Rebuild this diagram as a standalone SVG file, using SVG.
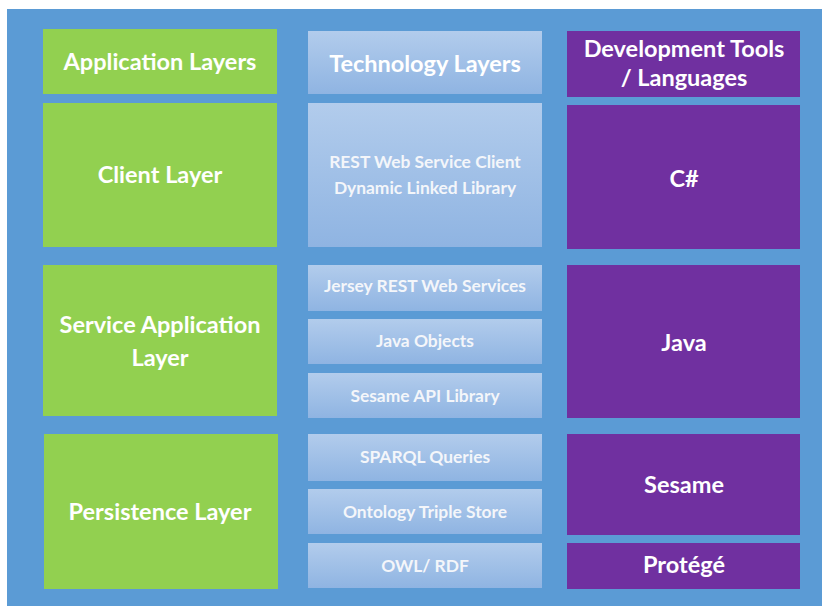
<svg xmlns="http://www.w3.org/2000/svg" width="822" height="606" viewBox="0 0 822 606">
<defs>
<linearGradient id="tg" x1="0" y1="0" x2="0" y2="1">
<stop offset="0" stop-color="#B2CCEC"/>
<stop offset="1" stop-color="#8FB4E2"/>
</linearGradient>
<style>
.g{fill:#92D050}
.p{fill:#7030A0}
.t{fill:url(#tg)}
text{font-family:Lato,"Open Sans","Liberation Sans",sans-serif;font-weight:bold;fill:#FFFFFF;text-anchor:middle}
.big{font-size:23.5px}
.sm{font-size:17.4px;fill:#F4F6FA}
.hd{font-size:23.5px}
</style>
</defs>
<rect x="0" y="0" width="822" height="606" fill="#FFFFFF"/>
<rect x="7" y="9" width="815" height="597" fill="#5B9BD5"/>

<g id="app-header"><rect class="g" x="43" y="29" width="234" height="65"/><text class="hd" x="160" y="70">Application Layers</text></g>
<g id="client-layer"><rect class="g" x="43" y="103" width="234" height="144"/><text class="big" x="160" y="183">Client Layer</text></g>
<g id="service-layer"><rect class="g" x="43" y="265" width="234" height="151"/><text class="big" x="160" y="333">Service Application</text><text class="big" x="160" y="366">Layer</text></g>
<g id="persistence-layer"><rect class="g" x="44" y="434" width="234" height="155"/><text class="big" x="160" y="520">Persistence Layer</text></g>

<g id="tech-header"><rect class="t" x="308" y="31" width="234" height="63"/><text class="hd" x="425" y="72">Technology Layers</text></g>
<g id="rest-client"><rect class="t" x="308" y="103" width="234" height="144"/><text class="sm" x="425" y="168">REST Web Service Client</text><text class="sm" x="425" y="194">Dynamic Linked Library</text></g>
<g id="jersey"><rect class="t" x="308" y="265" width="234" height="46"/><text class="sm" x="425" y="292">Jersey REST Web Services</text></g>
<g id="java-objects"><rect class="t" x="308" y="319" width="234" height="45"/><text class="sm" x="425" y="347">Java Objects</text></g>
<g id="sesame-api"><rect class="t" x="308" y="373" width="234" height="45"/><text class="sm" x="425" y="402">Sesame API Library</text></g>
<g id="sparql"><rect class="t" x="308" y="434" width="234" height="47"/><text class="sm" x="425" y="463">SPARQL Queries</text></g>
<g id="ontology-store"><rect class="t" x="308" y="489" width="234" height="45"/><text class="sm" x="425" y="518">Ontology Triple Store</text></g>
<g id="owl-rdf"><rect class="t" x="308" y="543" width="234" height="45"/><text class="sm" x="425" y="572">OWL/ RDF</text></g>

<g id="tools-header"><rect class="p" x="567" y="31" width="233" height="66"/><text class="hd" x="684" y="57">Development Tools</text><text class="hd" x="684" y="86">/ Languages</text></g>
<g id="csharp"><rect class="p" x="567" y="105" width="233" height="144"/><text class="big" x="684" y="187">C#</text></g>
<g id="java"><rect class="p" x="567" y="265" width="233" height="153"/><text class="big" x="684" y="351">Java</text></g>
<g id="sesame"><rect class="p" x="567" y="434" width="233" height="101"/><text class="big" x="684" y="493">Sesame</text></g>
<g id="protege"><rect class="p" x="567" y="543" width="233" height="46"/><text class="big" x="684" y="573">Protégé</text></g>
</svg>
